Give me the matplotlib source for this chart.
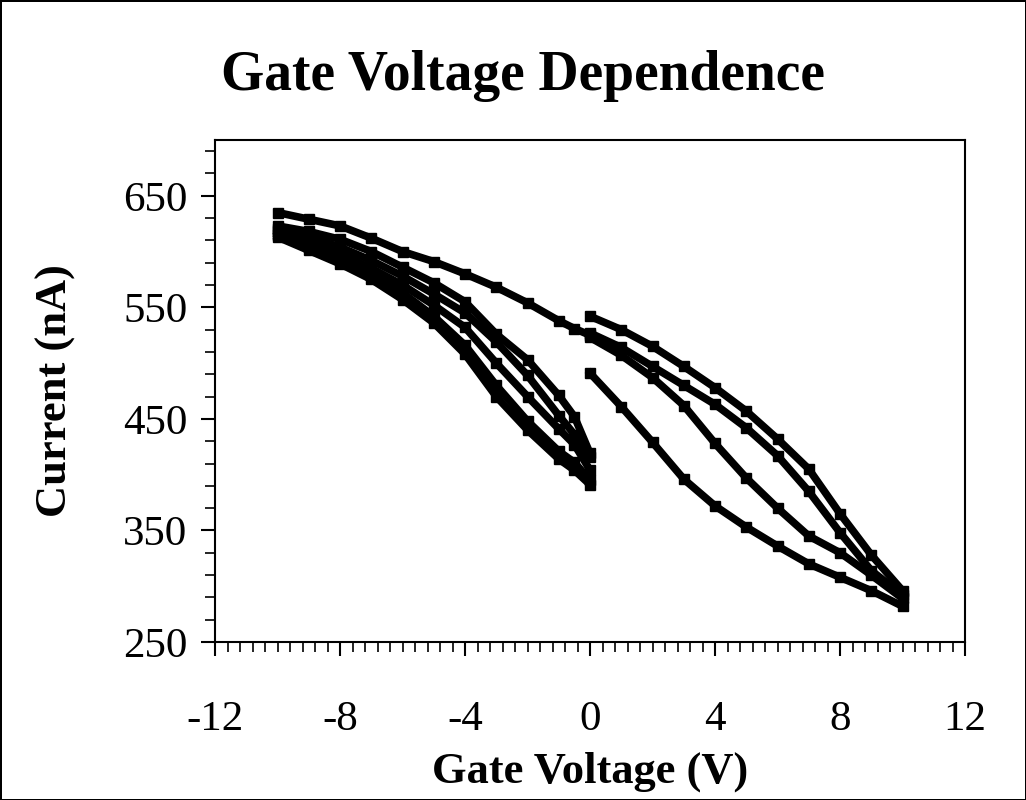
import matplotlib
matplotlib.use("Agg")
import matplotlib.pyplot as plt
from matplotlib.ticker import FixedLocator, MultipleLocator

# gate sweep branches, negative side
v_neg = [-10, -9, -8, -7, -6, -5, -4, -3, -2, -1, -0.5, 0]
i_neg_top = [635, 629, 623, 612, 600, 591, 580, 568, 554, 538, 531, 525]
i_neg_b = [623, 618, 611, 600, 586, 572, 555, 526, 503, 471, 452, 419]
i_neg_c = [620, 613, 604, 592, 578, 562, 545, 519, 489, 453, 436, 416]
i_neg_d = [618, 608, 598, 585, 570, 552, 532, 500, 470, 441, 427, 404]
i_neg_e = [615, 604, 593, 579, 563, 542, 516, 480, 448, 421, 411, 395]
i_neg_f = [613, 601, 589, 575, 557, 536, 508, 470, 440, 414, 404, 391]

# positive side
v_pos = [0, 1, 2, 3, 4, 5, 6, 7, 8, 9, 10]
i_pos_1 = [542, 530, 515, 497, 478, 457, 432, 405, 365, 328, 296]
i_pos_2 = [527, 514, 497, 480, 463, 442, 417, 385, 348, 314, 292]
i_pos_3 = [523, 507, 487, 462, 428, 397, 370, 345, 330, 310, 289]
i_pos_4 = [491, 461, 429, 396, 372, 353, 336, 320, 308, 296, 282]

x_ticks = [-12, -8, -4, 0, 4, 8, 12]
y_ticks = [250, 350, 450, 550, 650]

plt.rcParams["font.family"] = ["Liberation Serif", "DejaVu Serif"]

fig = plt.figure(figsize=(10.26, 8.0), dpi=100)
fig.patch.set_edgecolor("black")
fig.patch.set_linewidth(2)
ax = fig.add_axes([0.2096, 0.1975, 0.7310, 0.6275])

neg = [i_neg_top, i_neg_b, i_neg_c, i_neg_d, i_neg_e, i_neg_f]
pos = [i_pos_1, i_pos_2, i_pos_3, i_pos_4]
for ys in neg:
    ax.plot(v_neg, ys, color="black", lw=5.5, marker="s", ms=7,
            solid_joinstyle="round")
for ys in pos:
    ax.plot(v_pos, ys, color="black", lw=5.5, marker="s", ms=7,
            solid_joinstyle="round")

ax.set_xlim(-12, 12)
ax.set_ylim(250, 700)
ax.xaxis.set_major_locator(FixedLocator(x_ticks))
ax.xaxis.set_minor_locator(MultipleLocator(0.4))
ax.yaxis.set_major_locator(FixedLocator(y_ticks))
ax.yaxis.set_minor_locator(FixedLocator(list(range(250, 701, 20))))
ax.set_xticklabels([str(t) for t in x_ticks])
ax.set_yticklabels([str(t) for t in y_ticks])

for s in ax.spines.values():
    s.set_linewidth(1.5)
ax.tick_params(which="major", direction="out", length=10, width=1.5,
               labelsize=31)
ax.tick_params(which="minor", direction="out", length=7, width=1.2)
ax.tick_params(axis="x", which="major", pad=32)
ax.tick_params(axis="y", which="major", pad=10)

ax.set_xlabel("Gate Voltage (V)", fontsize=32, fontweight="bold", labelpad=9)
ax.set_ylabel("Current (nA)", fontsize=32, fontweight="bold", labelpad=34)
fig.text(523 / 1026, 1 - 76 / 800, "Gate Voltage Dependence", fontsize=40,
         fontweight="bold", ha="center", va="center")

fig.savefig("out.png", dpi=100, edgecolor=fig.get_edgecolor())
